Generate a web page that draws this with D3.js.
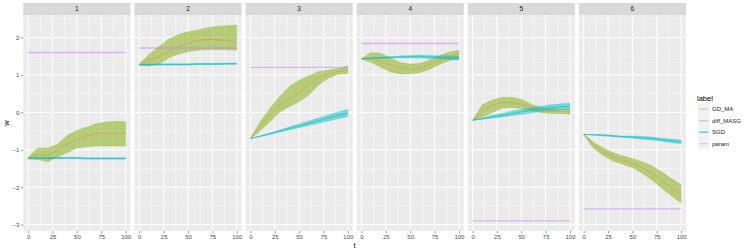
<!DOCTYPE html>
<html>
<head>
<meta charset="utf-8">
<script src="https://cdn.jsdelivr.net/npm/d3@7"></script>
<style>
  html, body { margin: 0; padding: 0; background: #ffffff; }
  svg { display: block; font-family: "Liberation Sans", Arial, sans-serif; }
</style>
</head>
<body>
<svg id="chart" width="747" height="251"></svg>
<script>
// ---- data ----
const panels = ["1", "2", "3", "4", "5", "6"];
const tValues = [0, 10, 20, 30, 40, 50, 60, 70, 80, 90, 100];
const xTicks = [0, 25, 50, 75, 100];
const yTicks = [-3, -2, -1, 0, 1, 2];
const labels = ["GD_MA", "diff_MASG", "SGD", "param"];

const gdmaMean = [
  [-1.23, -1.12, -1.15, -1.02, -0.85, -0.72, -0.63, -0.55, -0.55, -0.55, -0.55],
  [1.28, 1.40, 1.49, 1.62, 1.75, 1.84, 1.92, 1.95, 1.94, 1.92, 1.87],
  [-0.70, -0.38, -0.07, 0.20, 0.37, 0.53, 0.75, 0.93, 1.03, 1.09, 1.13],
  [1.43, 1.42, 1.37, 1.26, 1.18, 1.15, 1.19, 1.28, 1.40, 1.49, 1.55],
  [-0.21, 0.02, 0.18, 0.26, 0.26, 0.22, 0.13, 0.06, 0.03, 0.02, 0.01],
  [-0.59, -0.87, -1.05, -1.19, -1.28, -1.36, -1.48, -1.61, -1.81, -2.02, -2.21]
];
const masgLower = [
  [-1.25, -1.27, -1.32, -1.20, -1.08, -0.95, -0.92, -0.90, -0.90, -0.90, -0.90],
  [1.26, 1.24, 1.28, 1.45, 1.55, 1.62, 1.66, 1.67, 1.67, 1.67, 1.66],
  [-0.71, -0.50, -0.25, 0.00, 0.15, 0.28, 0.46, 0.73, 0.91, 1.02, 1.04],
  [1.42, 1.33, 1.20, 1.08, 1.02, 1.03, 1.06, 1.15, 1.28, 1.38, 1.45],
  [-0.22, -0.13, -0.01, 0.11, 0.13, 0.10, 0.04, -0.01, -0.03, -0.04, -0.05],
  [-0.60, -0.96, -1.16, -1.30, -1.39, -1.48, -1.63, -1.81, -2.03, -2.23, -2.43]
];
const masgUpper = [
  [-1.20, -0.95, -0.95, -0.85, -0.62, -0.48, -0.40, -0.30, -0.26, -0.24, -0.25],
  [1.29, 1.55, 1.75, 1.95, 2.08, 2.15, 2.20, 2.26, 2.30, 2.32, 2.33],
  [-0.69, -0.25, 0.11, 0.42, 0.69, 0.86, 0.98, 1.09, 1.13, 1.18, 1.24],
  [1.44, 1.60, 1.58, 1.45, 1.33, 1.29, 1.31, 1.40, 1.52, 1.61, 1.66],
  [-0.20, 0.20, 0.33, 0.40, 0.40, 0.35, 0.22, 0.13, 0.10, 0.08, 0.08],
  [-0.58, -0.79, -0.95, -1.07, -1.16, -1.23, -1.32, -1.43, -1.59, -1.77, -1.93]
];
const sgdMean = [
  [-1.22, -1.22, -1.22, -1.22, -1.22, -1.22, -1.23, -1.23, -1.23, -1.23, -1.23],
  [1.27, 1.27, 1.28, 1.28, 1.28, 1.28, 1.29, 1.29, 1.29, 1.30, 1.30],
  [-0.70, -0.64, -0.57, -0.50, -0.43, -0.36, -0.29, -0.22, -0.15, -0.08, -0.02],
  [1.43, 1.45, 1.46, 1.47, 1.48, 1.49, 1.49, 1.48, 1.47, 1.46, 1.44],
  [-0.21, -0.17, -0.12, -0.08, -0.03, 0.01, 0.05, 0.09, 0.12, 0.15, 0.16],
  [-0.59, -0.60, -0.61, -0.63, -0.65, -0.66, -0.68, -0.70, -0.73, -0.76, -0.79]
];
const sgdLower = [
  [-1.23, -1.24, -1.24, -1.24, -1.24, -1.24, -1.25, -1.25, -1.25, -1.25, -1.25],
  [1.26, 1.26, 1.26, 1.26, 1.26, 1.26, 1.27, 1.27, 1.27, 1.28, 1.28],
  [-0.70, -0.65, -0.59, -0.53, -0.47, -0.41, -0.35, -0.29, -0.23, -0.17, -0.12],
  [1.43, 1.44, 1.44, 1.45, 1.45, 1.45, 1.45, 1.44, 1.43, 1.41, 1.39],
  [-0.21, -0.19, -0.16, -0.13, -0.09, -0.06, -0.02, 0.02, 0.04, 0.07, 0.08],
  [-0.59, -0.61, -0.63, -0.65, -0.67, -0.69, -0.72, -0.74, -0.77, -0.81, -0.84]
];
const sgdUpper = [
  [-1.21, -1.20, -1.20, -1.20, -1.20, -1.20, -1.21, -1.21, -1.21, -1.21, -1.21],
  [1.28, 1.29, 1.30, 1.30, 1.30, 1.30, 1.31, 1.31, 1.31, 1.32, 1.32],
  [-0.70, -0.63, -0.55, -0.47, -0.39, -0.31, -0.23, -0.15, -0.07, 0.01, 0.08],
  [1.43, 1.46, 1.48, 1.49, 1.51, 1.52, 1.53, 1.52, 1.51, 1.51, 1.50],
  [-0.21, -0.15, -0.08, -0.03, 0.03, 0.08, 0.12, 0.16, 0.20, 0.23, 0.24],
  [-0.59, -0.59, -0.59, -0.61, -0.63, -0.63, -0.64, -0.66, -0.69, -0.71, -0.74]
];
const paramValue = [1.6, 1.72, 1.2, 1.84, -2.9, -2.58];

// ---- layout ----
const colors = { GD_MA: "#F8766D", diff_MASG: "#7CAE00", SGD: "#00BFC4", param: "#C77CFF" };
const panelLeft0 = 23.3, panelW = 107.2, panelGap = 3.9;
const panelTop = 15, panelBottom = 231, stripTop = 3;

const svg = d3.select("#chart");
const x = d3.scaleLinear().domain([-5, 105]).range([0, panelW]);
const y = d3.scaleLinear().domain([-3.17, 2.6]).range([panelBottom, panelTop]);
const fmt = v => (v < 0 ? "\u2212" + Math.abs(v) : String(v));

panels.forEach((name, k) => {
  const g = svg.append("g").attr("transform", `translate(${panelLeft0 + k * (panelW + panelGap)},0)`);
  // strip
  g.append("rect").attr("x", 0).attr("y", stripTop).attr("width", panelW).attr("height", panelTop - stripTop).attr("fill", "#D9D9D9");
  g.append("text").attr("x", panelW / 2).attr("y", (stripTop + panelTop) / 2).attr("dy", "0.35em")
    .attr("text-anchor", "middle").attr("font-size", 6.5).attr("fill", "#1A1A1A").text(name);
  // panel bg
  g.append("rect").attr("x", 0).attr("y", panelTop).attr("width", panelW).attr("height", panelBottom - panelTop).attr("fill", "#EBEBEB");
  // minor grid
  const yMinor = yTicks.slice(0, -1).map(v => v + 0.5).concat([2.5]);
  g.selectAll(".ymin").data(yMinor).enter().append("line")
    .attr("x1", 0).attr("x2", panelW).attr("y1", d => y(d)).attr("y2", d => y(d))
    .attr("stroke", "#ffffff").attr("stroke-width", 0.5);
  g.selectAll(".xmin").data([12.5, 37.5, 62.5, 87.5]).enter().append("line")
    .attr("x1", d => x(d)).attr("x2", d => x(d)).attr("y1", panelTop).attr("y2", panelBottom)
    .attr("stroke", "#ffffff").attr("stroke-width", 0.5);
  // major grid
  g.selectAll(".ymaj").data(yTicks).enter().append("line")
    .attr("x1", 0).attr("x2", panelW).attr("y1", d => y(d)).attr("y2", d => y(d))
    .attr("stroke", "#ffffff").attr("stroke-width", 1);
  g.selectAll(".xmaj").data(xTicks).enter().append("line")
    .attr("x1", d => x(d)).attr("x2", d => x(d)).attr("y1", panelTop).attr("y2", panelBottom)
    .attr("stroke", "#ffffff").attr("stroke-width", 1);

  const rows = tValues.map((t, i) => ({
    t, gd: gdmaMean[k][i], lo: masgLower[k][i], hi: masgUpper[k][i],
    s: sgdMean[k][i], slo: sgdLower[k][i], shi: sgdUpper[k][i]
  }));
  const areaM = d3.area().x(d => x(d.t)).y0(d => y(d.lo)).y1(d => y(d.hi));
  const areaS = d3.area().x(d => x(d.t)).y0(d => y(d.slo)).y1(d => y(d.shi));
  const lineGD = d3.line().x(d => x(d.t)).y(d => y(d.gd));
  const lineS = d3.line().x(d => x(d.t)).y(d => y(d.s));

  g.append("path").attr("d", areaM(rows)).attr("fill", colors.diff_MASG).attr("fill-opacity", 0.5)
    .attr("stroke", colors.diff_MASG).attr("stroke-opacity", 0.35).attr("stroke-width", 0.5);
  g.append("path").attr("d", areaS(rows)).attr("fill", colors.SGD).attr("fill-opacity", 0.5)
    .attr("stroke", colors.SGD).attr("stroke-opacity", 0.4).attr("stroke-width", 0.5);
  g.append("path").attr("d", lineGD(rows)).attr("fill", "none").attr("stroke", colors.GD_MA)
    .attr("stroke-opacity", 0.7).attr("stroke-width", 0.7);
  g.append("path").attr("d", lineS(rows)).attr("fill", "none").attr("stroke", colors.SGD)
    .attr("stroke-opacity", 0.6).attr("stroke-width", 1);
  g.append("line").attr("x1", x(0)).attr("x2", x(100)).attr("y1", y(paramValue[k])).attr("y2", y(paramValue[k]))
    .attr("stroke", colors.param).attr("stroke-opacity", 0.5).attr("stroke-width", 1.4);

  // x axis
  const xa = g.append("g").attr("transform", `translate(0,${panelBottom})`)
    .call(d3.axisBottom(x).tickValues(xTicks).tickSize(2.5).tickPadding(1.5));
  xa.select(".domain").remove();
  xa.selectAll(".tick line").attr("stroke", "#333333").attr("stroke-width", 0.5);
  xa.selectAll(".tick text").attr("fill", "#4D4D4D").attr("font-size", 6).attr("font-family", "Liberation Sans, Arial, sans-serif");

  if (k === 0) {
    const ya = g.append("g").call(d3.axisLeft(y).tickValues(yTicks).tickFormat(fmt).tickSize(2.5).tickPadding(1.5));
    ya.select(".domain").remove();
    ya.selectAll(".tick line").attr("stroke", "#333333").attr("stroke-width", 0.5);
    ya.selectAll(".tick text").attr("fill", "#4D4D4D").attr("font-size", 6).attr("font-family", "Liberation Sans, Arial, sans-serif");
  }
});

// axis titles
const plotLeft = panelLeft0, plotRight = panelLeft0 + 6 * panelW + 5 * panelGap;
svg.append("text").attr("x", (plotLeft + plotRight) / 2).attr("y", 247.5).attr("text-anchor", "middle")
  .attr("font-size", 7.5).attr("fill", "#000").text("t");
svg.append("text").attr("transform", `translate(9,${(panelTop + panelBottom) / 2}) rotate(-90)`)
  .attr("text-anchor", "middle").attr("font-size", 7.5).attr("fill", "#000").text("w");

// legend
const leg = svg.append("g").attr("transform", "translate(697,0)");
leg.append("text").attr("x", 0).attr("y", 100.5).attr("font-size", 7.5).attr("fill", "#000").text("label");
const keySize = 11.5, keyTop = 103.5;
labels.forEach((lab, i) => {
  const ky = keyTop + i * keySize;
  leg.append("rect").attr("x", 1).attr("y", ky).attr("width", keySize).attr("height", keySize).attr("fill", "#F2F2F2");
  leg.append("line").attr("x1", 2.2).attr("x2", keySize - 0.2).attr("y1", ky + keySize / 2).attr("y2", ky + keySize / 2)
    .attr("stroke", colors[lab]).attr("stroke-opacity", lab === "SGD" ? 0.6 : 0.5)
    .attr("stroke-width", lab === "SGD" ? 1.6 : 1);
  leg.append("text").attr("x", keySize + 3.5).attr("y", ky + keySize / 2).attr("dy", "0.35em")
    .attr("font-size", 6).attr("fill", "#1A1A1A").text(lab);
});
</script>
</body>
</html>
